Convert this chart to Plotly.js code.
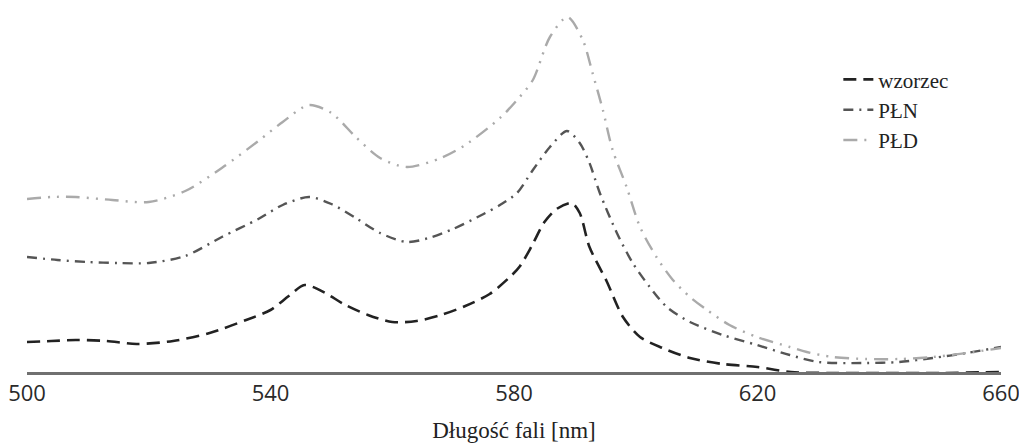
<!DOCTYPE html>
<html><head><meta charset="utf-8">
<script src="https://cdn.plot.ly/plotly-3.0.1.min.js"></script>
<style>html,body{margin:0;padding:0;background:#fff}#chart{width:1019px;height:446px}</style>
</head><body><div id="chart"></div>
<script>
// wavelengths (nm) and relative intensity (arbitrary units)
const xWzorzec = [500,504,508,513,518,524,530,536,540,543,545.6,549,552,556,560,564,568,572,576,579.5,581,583,585,587,589.5,590.8,592.4,595.2,597.9,600.7,604.4,608.9,614.3,620,625.5,632,640,650,660];
const yWzorzec = [30,31,32,31,28,31,39,52,62,76,87,79,68,57,50,51,57,66,78,96,106,127,150,163,169,159,125,91,55,35,24,14,8,5,0,-1,-1,-1,0];

const xPLN = [500,505,510,515,520,526,532,538,542,546.3,550,554,558,562.4,566,570,575,577.7,580.5,583.1,585.9,588.7,590.8,592.4,594.1,596.9,599.5,602.3,605.1,608.9,614.3,619.9,625.3,630,637.9,643.3,648.8,654.4,660];
const yPLN = [115,112,110,109,109,116,135,153,167,175,168,154,139,130,134,143,158,167,179,202,225,241,229,209,179,139,109,85,65,50,37,27,17,10,9,10,14,19,25];

const xPLD = [500,504,508,514,520,526,532,538,542,546.3,550,554,558,562.4,568,572,577.7,580.5,583.1,585.9,588.8,591.3,592.9,594.6,596.2,598.5,600.7,603.4,606.1,608.9,611.7,615.4,619.9,625.3,628.1,632.3,637.9,643.3,648.8,654.4,660];
const yPLD = [173,175,175,172,170,181,204,231,250,267,259,235,214,205,214,227,254,272,292,335,355,332,299,262,222,185,145,115,92,75,62,47,35,25,20,15,13,13,15,19,24];

const tickVals = [500,540,580,620,660];
const tickText = ['500','540','580','620','660'];

const traces = [
  {x:xWzorzec, y:yWzorzec, name:'wzorzec', mode:'lines', line:{shape:'spline', smoothing:0.8, color:'#222', width:2.6, dash:'13px,7px'}},
  {x:xPLN, y:yPLN, name:'PŁN', mode:'lines', line:{shape:'spline', smoothing:0.8, color:'#555', width:2.4, dash:'10px,6px,2px,6px'}},
  {x:xPLD, y:yPLD, name:'PŁD', mode:'lines', line:{shape:'spline', smoothing:0.8, color:'#aaa', width:2.4, dash:'14px,7px,2px,7px,2px,7px'}}
];

const layout = {
  width:1019, height:446,
  margin:{l:27, r:18, t:0, b:74},
  paper_bgcolor:'#fff', plot_bgcolor:'#fff',
  showlegend:true,
  legend:{x:0.833, y:0.705, xanchor:'left', yanchor:'middle', bgcolor:'rgba(0,0,0,0)',
    font:{family:'Liberation Serif, Times New Roman, serif', size:21, color:'#222'}, itemwidth:30, tracegroupgap:0},
  xaxis:{range:[500,660], showgrid:false, zeroline:false, showline:true, linecolor:'#707070', linewidth:3,
    ticks:'', tickvals:tickVals, ticktext:tickText, ticklabeloverflow:'allow',
    tickfont:{family:'Open Sans, Noto Sans, sans-serif', size:22, color:'#2a2a2a'},
    title:{text:'Długość fali [nm]', font:{family:'Liberation Serif, Times New Roman, serif', size:23, color:'#222'}, standoff:16}},
  yaxis:{range:[0,372], visible:false, showgrid:false, zeroline:false}
};
Plotly.newPlot('chart', traces, layout, {displayModeBar:false, staticPlot:true});
</script></body></html>
